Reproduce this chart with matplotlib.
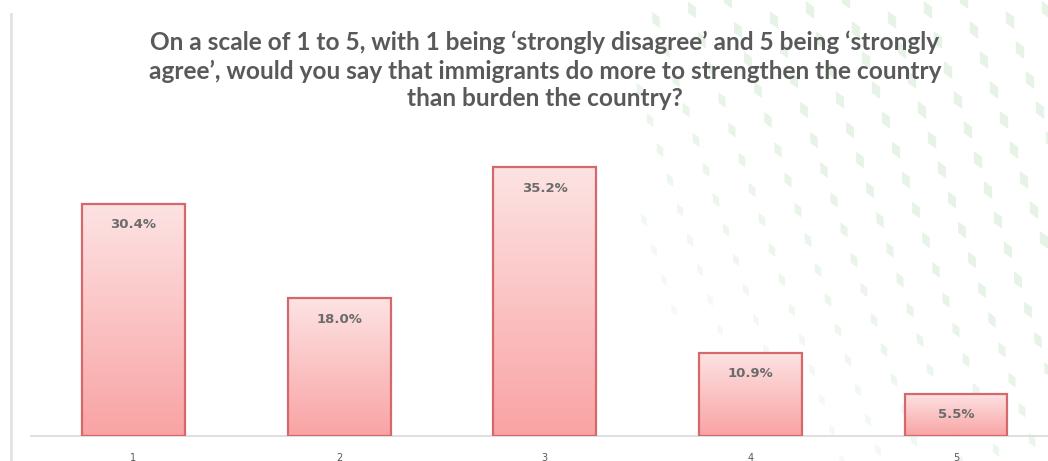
import numpy as np
import matplotlib.pyplot as plt
from matplotlib.patches import Polygon
from matplotlib.colors import LinearSegmentedColormap

categories = ["1", "2", "3", "4", "5"]
shares = [30.4, 18.0, 35.2, 10.9, 5.5]
title = ("On a scale of 1 to 5, with 1 being \u2018strongly disagree\u2019 and 5 being \u2018strongly\n"
         "agree\u2019, would you say that immigrants do more to strengthen the country\n"
         "than burden the country?")

W, H = 1048, 461
fig = plt.figure(figsize=(W / 100, H / 100), dpi=100)
fig.patch.set_facecolor("white")

# faint leaf pattern in the top right corner
bg = fig.add_axes([0, 0, 1, 1], zorder=-5)
bg.set_xlim(0, W)
bg.set_ylim(H, 0)
bg.axis("off")
tilt = np.deg2rad(25)
u = np.array([-np.sin(tilt), -np.cos(tilt)])   # leaf axis, leaning left at the top
n = np.array([np.cos(tilt), -np.sin(tilt)])
for i in range(-6, 14):
    for j in range(-2, 16):
        x = 640 + i * 36 + j * 10
        y = 90 - i * 10 + j * 30
        if x < 640 or x > W + 20 or y < -20 or y > H + 10:
            continue
        d = (x - 640) / 400 + (440 - y) / 350
        if d < 0.4:
            continue
        a = min(1.0, (d - 0.4) / 0.9)
        L = 5 + 5 * min(1.0, d / 1.6)
        w = L * 0.5
        c = np.array([x, y])
        pts = [c - u * L, c + n * w + u * 0.1 * L, c + u * L, c - n * w - u * 0.1 * L]
        bg.add_patch(Polygon(pts, closed=True, facecolor="#e6f3e6", edgecolor="none",
                             alpha=0.35 + 0.65 * a))

# thin grey rule on the left
bg.plot([11, 11], [14, H], color="#e2e2e2", lw=2)

ax = fig.add_axes([30.7 / W, 25 / H, 1028 / W, 305.6 / H])
ax.set_xlim(-0.5, 4.5)
ax.set_ylim(0, 40)
ax.patch.set_alpha(0)
for s in ["left", "right", "top"]:
    ax.spines[s].set_visible(False)
ax.spines["bottom"].set_color("#d9d9d9")
ax.spines["bottom"].set_linewidth(1.2)
ax.set_yticks([])
ax.set_xticks(range(len(categories)))
ax.set_xticklabels(categories, fontsize=7, color="#595959")
ax.tick_params(axis="x", length=0, pad=12)

cmap = LinearSegmentedColormap.from_list("pink", ["#f9a3a4", "#fde3e3"])
grad = np.linspace(0, 1, 256).reshape(-1, 1)
width = 0.5
for i, v in enumerate(shares):
    ax.imshow(grad, cmap=cmap, aspect="auto", origin="lower",
              extent=(i - width / 2, i + width / 2, 0, v), zorder=2)
ax.bar(range(len(shares)), shares, width=width, facecolor="none",
       edgecolor="#d4686a", linewidth=1.6, zorder=3)
for i, v in enumerate(shares):
    ax.text(i, v - 1.9, f"{v:.1f}%", ha="center", va="top", fontsize=9.5,
            fontweight="bold", color="#6b6b6b", zorder=4)
ax.set_xlim(-0.5, 4.5)
ax.set_ylim(0, 40)

fig.text(545 / W, 1 - 31 / H, title, ha="center", va="top", fontsize=17.6,
         fontweight="bold", color="#595959", linespacing=1.25, family="Lato")

fig.savefig("out.png", dpi=100)
